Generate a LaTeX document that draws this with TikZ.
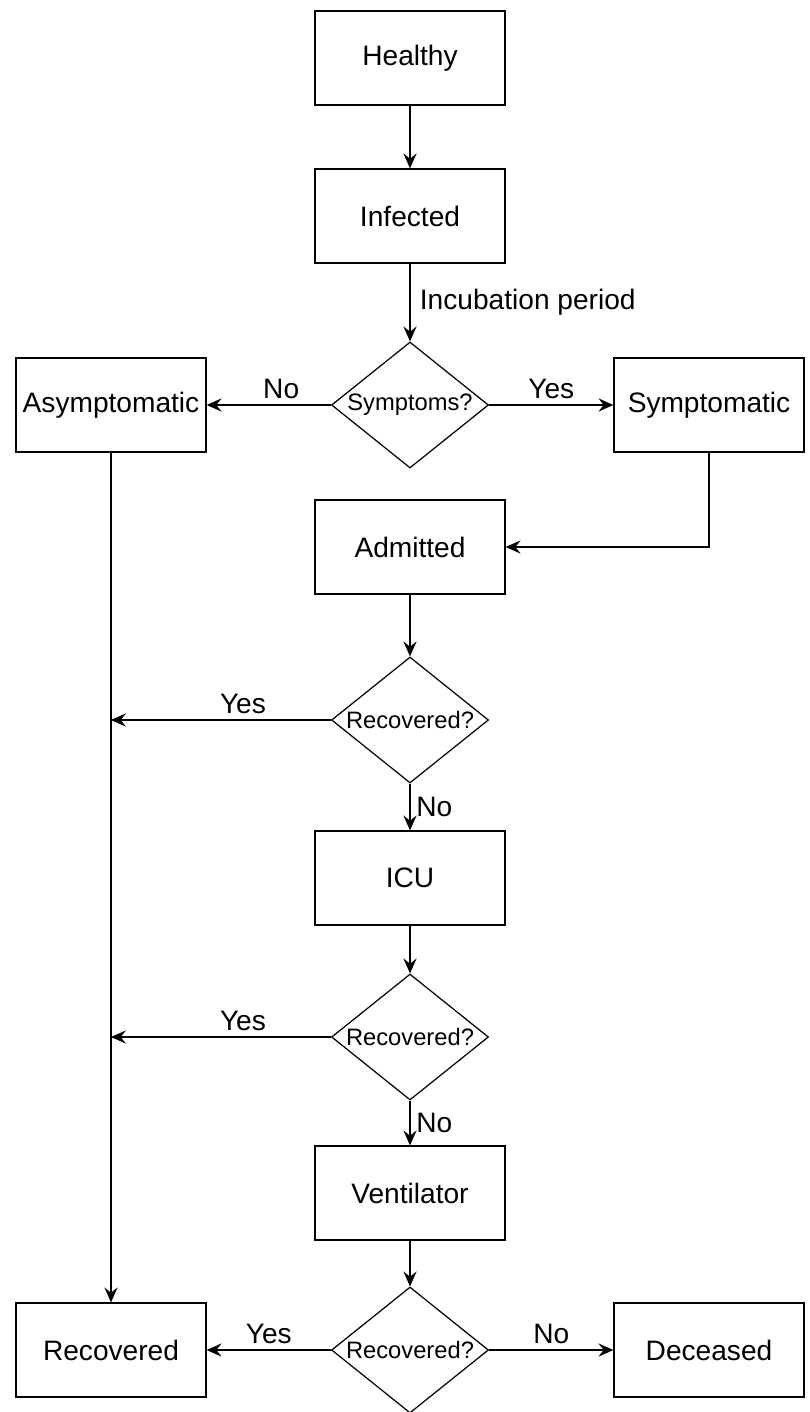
\documentclass[tikz,border=0pt]{standalone}
\usepackage{fontspec}
\setmainfont{Liberation Sans}
\usepackage{tikz}
\usetikzlibrary{shapes,arrows,arrows.meta,positioning}

\newcommand{\dtext}[1]{\makebox[0pt]{#1}}

\begin{document}
\begin{tikzpicture}[
    node distance=3.16cm,
    every node/.style={align=center},
    process/.style={rectangle, minimum width=3.8cm, minimum height=1.88cm, text centered, draw=black, line width=0.7pt, font=\fontsize{16}{19}\selectfont},
    decision/.style={diamond, minimum width=3.14cm, minimum height=2.52cm, inner sep=0pt, text centered, draw=black, line width=0.7pt, font=\fontsize{13.5}{16}\selectfont},
    label/.style={font=\fontsize{16}{19}\selectfont},
    arrow/.style={line width=0.6pt, ->, >={Stealth[length=8.5pt, width=7.5pt, inset=3pt]}}
]

\useasboundingbox (0,0) rectangle (16.18,-28.24);

% Infection and symptoms
\node[process] (healthy) at (8.2,-1.16) {Healthy};
\node[process, below of=healthy] (infected) {Infected};
\node[decision, below of=infected, yshift=-0.62cm] (symptoms) {\dtext{Symptoms?}};
\node[process, left of=symptoms, xshift=-2.82cm] (asymptomatic) {Asymptomatic};
\node[process, right of=symptoms, xshift=2.82cm] (symptomatic) {Symptomatic};

% Hospital path
\node[process, below of=symptoms, yshift=0.32cm] (admitted) {Admitted};
\node[decision, below of=admitted, yshift=-0.3cm] (recovered_a) {\dtext{Recovered?}};
\node[process, below of=recovered_a] (icu) {ICU};
\node[decision, below of=icu, yshift=-0.02cm] (recovered_b) {\dtext{Recovered?}};
\node[process, below of=recovered_b, yshift=0.04cm] (ventilator) {Ventilator};
\node[decision, below of=ventilator, yshift=0.02cm] (recovered_c) {\dtext{Recovered?}};
\node[process, left of=recovered_c, xshift=-2.82cm] (recovered) {Recovered};
\node[process, right of=recovered_c, xshift=2.82cm] (deceased) {Deceased};

% Connections
\draw[arrow] (healthy) -- (infected);
\draw[arrow] (infected) -- (symptoms) node[midway, right, label, xshift=2pt] {Incubation period};
\draw[arrow] (symptoms) -- (asymptomatic) node[pos=0.4, above, label] {No};
\draw[arrow] (symptoms) -- (symptomatic) node[midway, above, label] {Yes};
\draw[arrow] (symptomatic.south) |- (admitted.east);
\draw[arrow] (admitted) -- (recovered_a);
\draw[arrow] (recovered_a) -- (icu) node[midway, right, label] {No};
\draw[arrow] (icu) -- (recovered_b);
\draw[arrow] (recovered_b) -- (ventilator) node[midway, right, label] {No};
\draw[arrow] (ventilator) -- (recovered_c);
\draw[arrow] (recovered_c) -- (recovered) node[midway, above, label] {Yes};
\draw[arrow] (recovered_c) -- (deceased) node[midway, above, label] {No};

% Recovery line
\draw[arrow] (asymptomatic) -- (recovered);
\draw[arrow] (recovered_a.west) -- (recovered_a.west -| asymptomatic) node[pos=0.4, above, label] {Yes};
\draw[arrow] (recovered_b.west) -- (recovered_b.west -| asymptomatic) node[pos=0.4, above, label] {Yes};

\end{tikzpicture}
\end{document}
